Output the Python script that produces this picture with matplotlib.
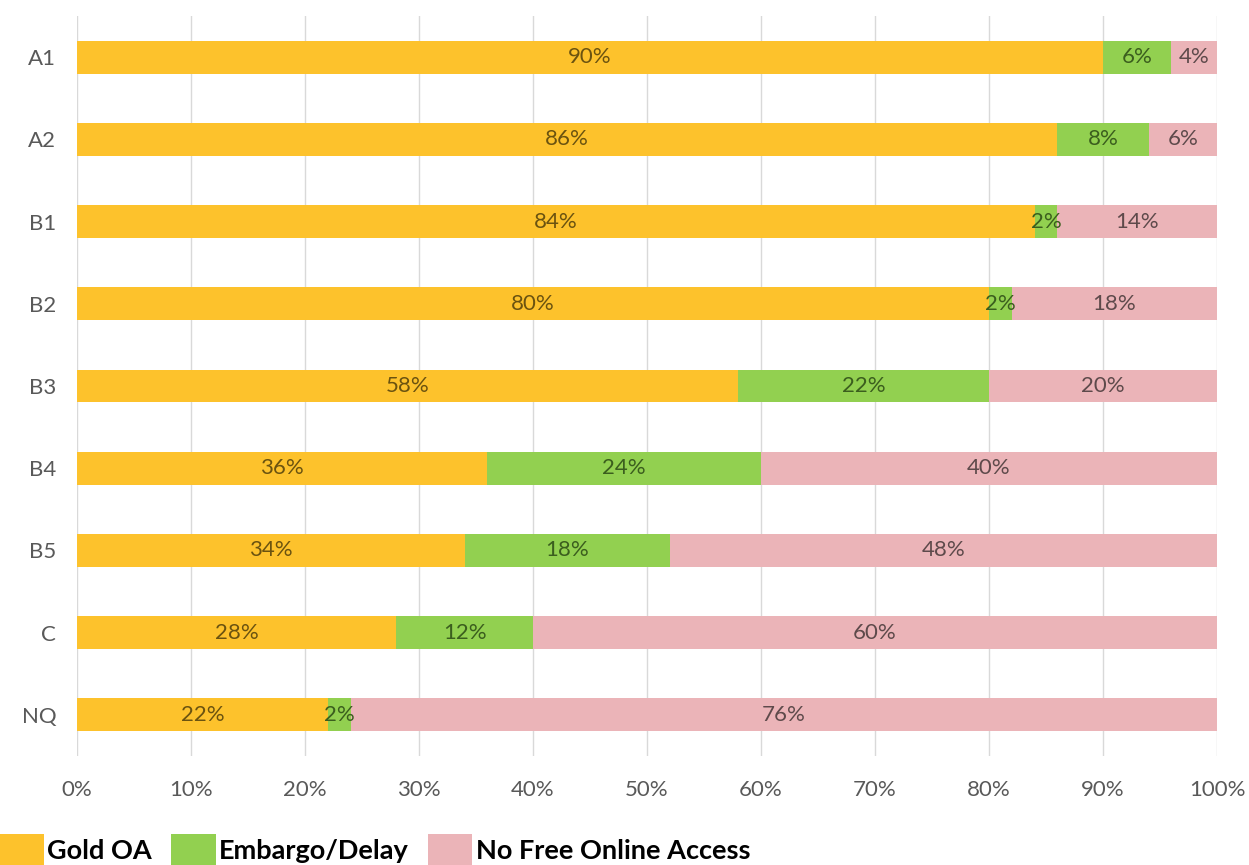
import matplotlib.pyplot as plt
import numpy as np
from matplotlib.patches import Patch
from matplotlib.ticker import PercentFormatter

plt.rcParams['font.family'] = ['Lato', 'DejaVu Sans']

categories = ['A1', 'A2', 'B1', 'B2', 'B3', 'B4', 'B5', 'C', 'NQ']
gold_oa = [90, 86, 84, 80, 58, 36, 34, 28, 22]
embargo = [6, 8, 2, 2, 22, 24, 18, 12, 2]
no_access = [4, 6, 14, 18, 20, 40, 48, 60, 76]
series_names = ['Gold OA', 'Embargo/Delay', 'No Free Online Access']

colors = ['#FDC22C', '#92D050', '#EBB4B8']
text_colors = ['#6B5310', '#3B5E1E', '#5E4A4B']

fig = plt.figure(figsize=(12.49, 8.65), dpi=100)
ax = fig.add_axes([0.0617, 0.126, 0.9127, 0.8555])

y = np.arange(len(categories))
left = np.zeros(len(categories))
for vals, col, tcol in zip([gold_oa, embargo, no_access], colors, text_colors):
    vals = np.array(vals, dtype=float)
    bars = ax.barh(y, vals, left=left, height=0.40, color=col, zorder=2)
    ax.bar_label(bars, labels=['%d%%' % v for v in vals], label_type='center',
                 color=tcol, fontsize=16)
    left += vals

ax.set_xlim(0, 100)
ax.set_ylim(len(categories) - 0.5, -0.5)
ax.set_yticks(y)
ax.set_yticklabels(categories)
ax.set_xticks(np.arange(0, 101, 10))
ax.xaxis.set_major_formatter(PercentFormatter(decimals=0))
ax.grid(axis='x', color='#D9D9D9', linewidth=1, zorder=0)
ax.set_axisbelow(True)
for s in ax.spines.values():
    s.set_visible(False)
ax.tick_params(axis='both', length=0, labelsize=16, labelcolor='#595959')
ax.tick_params(axis='x', pad=17)
ax.tick_params(axis='y', pad=15)

handles = [Patch(facecolor=c, edgecolor='none') for c in colors]
fig.legend(handles, series_names, loc='lower left', bbox_to_anchor=(-0.02, -0.028),
           ncol=3, frameon=False, handlelength=1.65, handleheight=1.35,
           handletextpad=0.12, columnspacing=0.7,
           prop={'weight': 'bold', 'size': 19.5})

fig.savefig('out.png', dpi=100)
